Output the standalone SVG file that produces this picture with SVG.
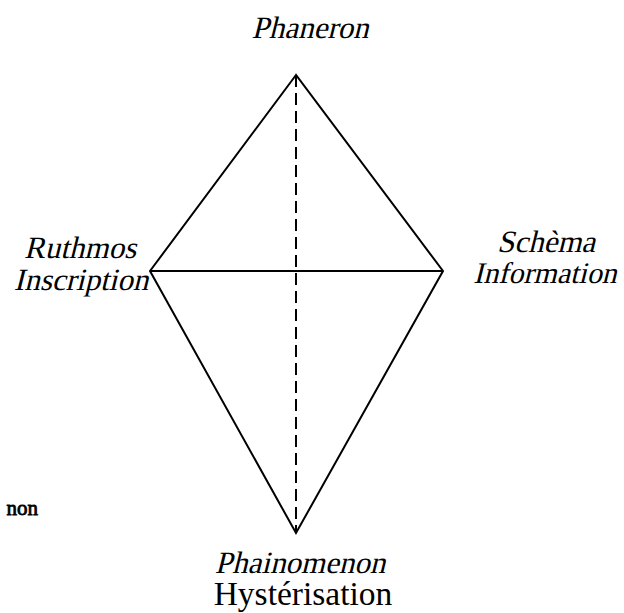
<svg xmlns="http://www.w3.org/2000/svg" width="624" height="613" viewBox="0 0 624 613">
<style>
.ln{stroke:#000;stroke-width:2;fill:none;stroke-linejoin:miter}
.it{font-family:"Liberation Serif","Times New Roman",serif;font-size:31px;fill:#000;text-anchor:middle}
.rg{font-family:"Liberation Serif","Times New Roman",serif;font-size:33.5px;fill:#000;text-anchor:middle}
.bd{font-family:"Liberation Serif","Times New Roman",serif;font-size:21px;fill:#000;stroke:#000;stroke-width:0.8;text-anchor:end}
</style>
<rect width="624" height="613" fill="#fff"/>
<g id="connectors">
<path class="ln" d="M296,75 L150,271 L296,533 L443,271 Z"/>
<line class="ln" x1="150" y1="271" x2="443" y2="271"/>
<line class="ln" x1="296" y1="75" x2="296" y2="533" stroke-dasharray="12,6"/>
</g>
<g id="phaneron"><text class="it" transform="translate(310,38) skewX(-14)">Phaneron</text></g>
<g id="ruthmos"><text class="it" transform="translate(80,258) skewX(-14)">Ruthmos</text><text class="it" transform="translate(81,290) skewX(-14)">Inscription</text></g>
<g id="schema"><text class="it" transform="translate(546,252) skewX(-14)">Schèma</text><text class="it" style="font-size:30px" transform="translate(545,283) skewX(-14)">Information</text></g>
<g id="phainomenon"><text class="it" transform="translate(300,573) skewX(-14)">Phainomenon</text><text class="rg" x="303" y="605">Hystérisation</text></g>
<g id="clipped"><text class="bd" x="38" y="515">non</text></g>
</svg>
